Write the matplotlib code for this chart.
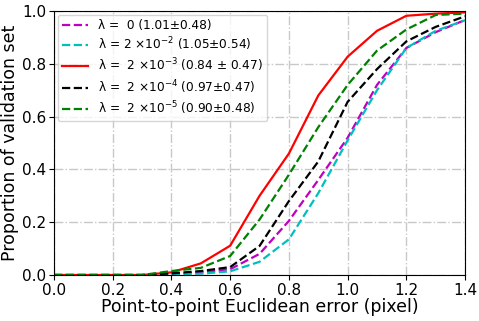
import matplotlib
matplotlib.use("Agg")
import matplotlib.pyplot as plt
import numpy as np

x = [0.0, 0.1, 0.2, 0.3, 0.4, 0.5, 0.6, 0.7, 0.8, 0.9, 1.0, 1.1, 1.2, 1.3, 1.4]
lam0 = [0, 0, 0, 0, 0.003, 0.01, 0.022, 0.08, 0.205, 0.36, 0.52, 0.72, 0.86, 0.92, 0.966]
lam2e2 = [0, 0, 0, 0, 0.001, 0.005, 0.014, 0.05, 0.135, 0.31, 0.51, 0.70, 0.86, 0.925, 0.965]
lam2e3 = [0, 0, 0, 0, 0.01, 0.044, 0.111, 0.30, 0.46, 0.68, 0.827, 0.925, 0.982, 0.99, 0.995]
lam2e4 = [0, 0, 0, 0, 0.006, 0.015, 0.03, 0.11, 0.28, 0.43, 0.656, 0.78, 0.885, 0.94, 0.98]
lam2e5 = [0, 0, 0, 0, 0.015, 0.027, 0.072, 0.21, 0.38, 0.56, 0.72, 0.85, 0.93, 0.985, 0.99]

labels = [r"λ =  0 (1.01±0.48)",
          r"λ = 2 ×10$^{-2}$ (1.05±0.54)",
          r"λ =  2 ×10$^{-3}$ (0.84 ± 0.47)",
          r"λ =  2 ×10$^{-4}$ (0.97±0.47)",
          r"λ =  2 ×10$^{-5}$ (0.90±0.48)"]

fig = plt.figure(figsize=(4.79, 3.21), dpi=100)
ax = fig.add_axes([0.1127, 0.1433, 0.8583, 0.8224])
ax.plot(x, lam0, color='m', ls='--', lw=1.6, label=labels[0])
ax.plot(x, lam2e2, color='c', ls='--', lw=1.6, label=labels[1])
ax.plot(x, lam2e3, color='r', ls='-', lw=1.6, label=labels[2])
ax.plot(x, lam2e4, color='k', ls='--', lw=1.6, label=labels[3])
ax.plot(x, lam2e5, color='g', ls='--', lw=1.6, label=labels[4])
ax.set_xlim(0, 1.4)
ax.set_ylim(0, 1.0)
ax.set_xticks(np.arange(0, 1.41, 0.2))
ax.set_yticks(np.arange(0, 1.01, 0.2))
ax.grid(True, color='#c8c8c8', ls='-.', lw=1.0)
ax.tick_params(labelsize=11, pad=2)
ax.set_xlabel("Point-to-point Euclidean error (pixel)", fontsize=12.5, labelpad=0)
ax.set_ylabel("Proportion of validation set", fontsize=12.5, labelpad=2)
ax.legend(loc='upper left', fontsize=8.7, handlelength=2.2, labelspacing=0.3,
          borderaxespad=0.3, borderpad=0.35)
fig.savefig("out.png", dpi=100)
